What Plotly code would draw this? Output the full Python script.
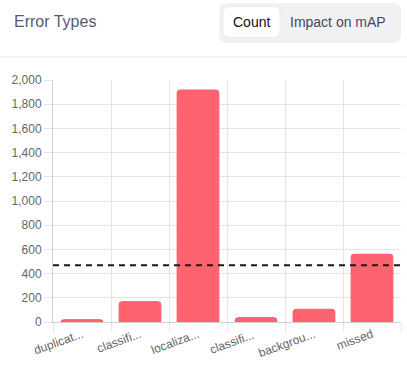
import plotly.graph_objects as go

categories = ["duplicat...", "classifi...", "localiza...", "classifi... ", "backgrou...", "missed"]
counts = [19, 168, 1917, 36, 105, 560]
avg_line = 468
y_ticks = [0, 200, 400, 600, 800, 1000, 1200, 1400, 1600, 1800, 2000]

W, H = 407, 373
L, R, T, B = 53, 6, 80, 51
PW, PH = W - L - R, H - T - B

def px(x):
    return (x - L) / PW

def py(y):
    return (H - B - y) / PH

def rounded_rect(x0, y0, x1, y1, r):
    # pixel coordinates (y down) -> paper path with rounded corners
    pts = []
    def P(x, y):
        return f"{px(x):.5f},{py(y):.5f}"
    path = (
        f"M {P(x0 + r, y0)} L {P(x1 - r, y0)} Q {P(x1, y0)} {P(x1, y0 + r)} "
        f"L {P(x1, y1 - r)} Q {P(x1, y1)} {P(x1 - r, y1)} "
        f"L {P(x0 + r, y1)} Q {P(x0, y1)} {P(x0, y1 - r)} "
        f"L {P(x0, y0 + r)} Q {P(x0, y0)} {P(x0 + r, y0)} Z"
    )
    return path

fig = go.Figure()
fig.add_trace(go.Bar(
    x=categories, y=counts,
    marker=dict(color="#ff6370", line=dict(color="#ff5a68", width=1), cornerradius=3),
    hoverinfo="x+y",
))

shapes = [
    # header separator
    dict(type="line", xref="paper", yref="paper", x0=px(0), x1=px(W), y0=py(57), y1=py(57),
         line=dict(color="#e6e6e6", width=1)),
    # toggle background
    dict(type="path", xref="paper", yref="paper", path=rounded_rect(219, 3, 401, 43, 9),
         fillcolor="#f1f1f4", line=dict(width=0), layer="above"),
    # active button
    dict(type="path", xref="paper", yref="paper", path=rounded_rect(223, 6.5, 280, 37.5, 7),
         fillcolor="#ffffff", line=dict(color="#e4e4e8", width=0.6), layer="above"),
    # average dashed line
    dict(type="line", xref="paper", yref="y", x0=0, x1=1, y0=avg_line, y1=avg_line,
         line=dict(color="#1a1a1a", width=2, dash="6px,5px"), layer="above"),
]

annotations = [
    dict(text="Error Types", xref="paper", yref="paper", x=px(12), y=py(21),
         xanchor="left", yanchor="middle", showarrow=False,
         font=dict(size=16, color="#5c5874", family="Liberation Sans, Arial, sans-serif")),
    dict(text="Count", xref="paper", yref="paper", x=px(251), y=py(22),
         xanchor="center", yanchor="middle", showarrow=False,
         font=dict(size=14, color="#111111", family="Liberation Sans, Arial, sans-serif")),
    dict(text="Impact on mAP", xref="paper", yref="paper", x=px(338), y=py(22),
         xanchor="center", yanchor="middle", showarrow=False,
         font=dict(size=14, color="#4a4560", family="Liberation Sans, Arial, sans-serif")),
]

fig.update_layout(
    width=W, height=H,
    margin=dict(l=L, r=R, t=T, b=B, pad=0),
    paper_bgcolor="white", plot_bgcolor="white",
    showlegend=False,
    bargap=0.28,
    shapes=shapes,
    annotations=annotations,
    font=dict(family="Liberation Sans, Arial, sans-serif", size=12, color="#666666"),
    xaxis=dict(
        tickson="boundaries", showgrid=True, gridcolor="#e5e5e5", gridwidth=1,
        ticks="outside", ticklen=8, tickcolor="#e5e5e5",
        showline=True, linecolor="#d0d0d0", mirror=False,
        tickangle=-20, tickfont=dict(size=12, color="#666666"),
        zeroline=False, fixedrange=True,
    ),
    yaxis=dict(
        range=[0, 2000], tickvals=y_ticks, ticktext=[f"{v:,}" for v in y_ticks],
        showgrid=True, gridcolor="#e5e5e5", gridwidth=1,
        ticks="outside", ticklen=8, tickcolor="#e5e5e5",
        showline=True, linecolor="#d0d0d0",
        zeroline=False, tickfont=dict(size=12, color="#666666"), fixedrange=True,
    ),
)

fig.write_html(
    "out.html",
    config={"displayModeBar": False},
    post_script="document.body.style.margin='0';document.body.style.padding='0';",
)
